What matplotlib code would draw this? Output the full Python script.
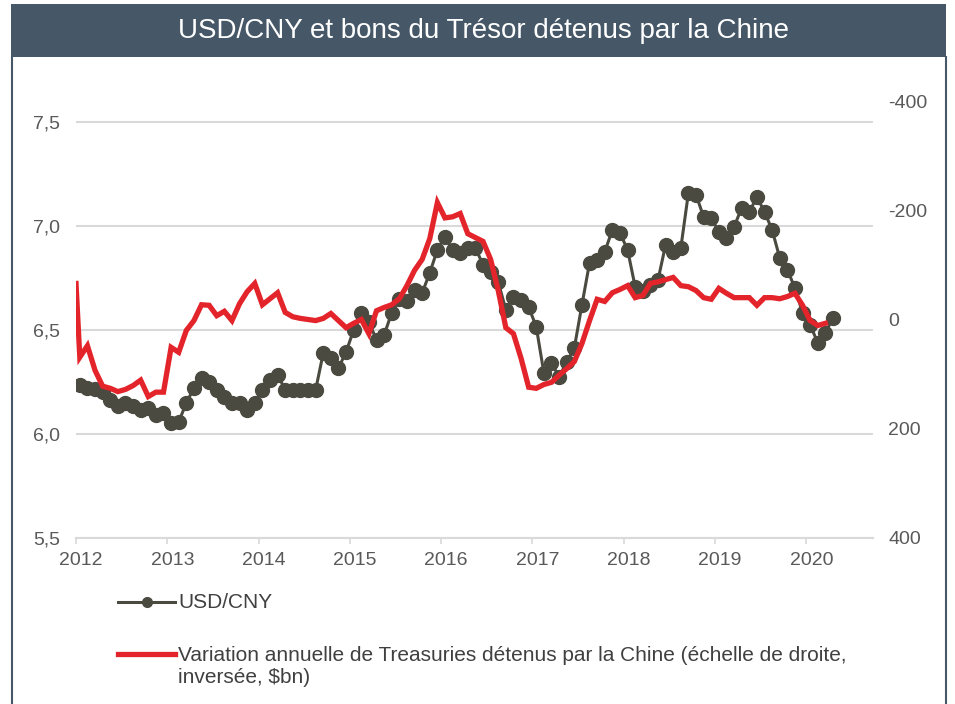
import numpy as np
import matplotlib.pyplot as plt
import matplotlib.transforms as mtransforms
from matplotlib.lines import Line2D
from matplotlib.patches import Rectangle

plt.rcParams['font.family'] = ['Liberation Sans', 'DejaVu Sans']

# USD/CNY, monthly from Jan 2012
usd_cny = [6.236, 6.221, 6.216, 6.202, 6.163, 6.135, 6.149, 6.135, 6.115, 6.125,
           6.091, 6.101, 6.053, 6.058, 6.149, 6.221, 6.269, 6.250, 6.212, 6.178,
           6.149, 6.149, 6.115, 6.149, 6.212, 6.260, 6.284, 6.212, 6.212, 6.212,
           6.212, 6.212, 6.389, 6.365, 6.317, 6.394, 6.500, 6.582, 6.538, 6.452,
           6.476, 6.582, 6.649, 6.639, 6.692, 6.678, 6.774, 6.885, 6.947, 6.885,
           6.870, 6.894, 6.894, 6.813, 6.779, 6.731, 6.596, 6.659, 6.644, 6.611,
           6.514, 6.293, 6.341, 6.274, 6.346, 6.413, 6.620, 6.822, 6.837, 6.875,
           6.981, 6.966, 6.885, 6.707, 6.688, 6.716, 6.740, 6.909, 6.875, 6.894,
           7.159, 7.149, 7.043, 7.038, 6.971, 6.942, 6.995, 7.087, 7.067, 7.139,
           7.067, 6.981, 6.846, 6.788, 6.702, 6.582, 6.524, 6.438, 6.486, 6.558]

# annual change of US Treasuries held by China, $bn (right axis, inverted)
treasuries = [-66, 69, 48, 93, 122, 126, 132, 128, 121, 111,
              141, 133, 133, 51, 60, 20, 2, -27, -26, -7,
              -15, 2, -29, -51, -66, -27, -38, -49, -13, -5,
              -2, 0, 2, -2, -11, 2, 15, 7, 0, 26,
              -16, -22, -27, -38, -62, -90, -110, -148, -214, -186,
              -188, -194, -157, -150, -143, -110, -53, 15, 26, 71,
              124, 126, 119, 115, 102, 90, 77, 44, 2, -37,
              -33, -49, -55, -62, -40, -44, -66, -69, -73, -77,
              -62, -60, -53, -40, -37, -57, -48, -40, -40, -40,
              -26, -40, -40, -38, -42, -48, -26, 2, 11, 7]

years = list(range(2012, 2021))
title = "USD/CNY et bons du Trésor détenus par la Chine"
label_fx = "USD/CNY"
label_ust = ("Variation annuelle de Treasuries détenus par la Chine (échelle de droite,\n"
             r"inversée, \$bn)")

months = 2012 + (np.arange(len(usd_cny)) + 0.5) / 12
ust_dates = np.concatenate([[2012.0], months[:len(treasuries) - 1]])

dark = '#4a4a40'
red = '#e3242b'
grey_txt = '#595959'
grid_c = '#d9d9d9'
frame_c = '#465868'

W, H = 955, 704
fig = plt.figure(figsize=(W / 100, H / 100), dpi=100)

# title bar and frame
fig.add_artist(Rectangle((11 / W, 1 - 57 / H), 935 / W, 53 / H, transform=fig.transFigure,
                         facecolor=frame_c, edgecolor='none'))
fig.add_artist(Line2D([11.5 / W, 11.5 / W], [0, 1 - 57 / H], color=frame_c, lw=1.5))
fig.add_artist(Line2D([945.5 / W, 945.5 / W], [0, 1 - 57 / H], color=frame_c, lw=1.5))
fig.text(484 / W, 1 - 31 / H, title, color='white', fontsize=20, ha='center', va='center')

ax = fig.add_axes([76 / W, 1 - 538 / H, (873 - 76) / W, (538 - 101) / H])
ax2 = ax.twinx()

ax.plot(months, usd_cny, color=dark, lw=2.2, marker='o', ms=10, zorder=3)
ax2.plot(ust_dates, treasuries, color=red, lw=3.8, solid_joinstyle='miter', zorder=3)

ax.set_xlim(2012, 2020.73)
ax.set_ylim(5.5, 7.6)
ax2.set_ylim(400, -400)

ax.set_yticks([5.5, 6.0, 6.5, 7.0, 7.5])
ax.set_yticklabels(['5,5', '6,0', '6,5', '7,0', '7,5'])
ax2.set_yticks([-400, -200, 0, 200, 400])
ax2.set_yticklabels(['-400', '-200', '0', '200', '400'])
ax.set_xticks(years)
ax.set_xticklabels([str(y) for y in years])

ax.grid(axis='y', color=grid_c, lw=1.5)
ax.set_axisbelow(True)
for s in ['top', 'left', 'right']:
    ax.spines[s].set_visible(False)
ax.spines['bottom'].set_color(grid_c)
ax.spines['bottom'].set_linewidth(1.5)
for s in ax2.spines.values():
    s.set_visible(False)

ax.tick_params(axis='y', length=0, pad=11.5, labelsize=14, labelcolor=grey_txt)
ax2.tick_params(axis='y', length=0, pad=11, labelsize=14, labelcolor=grey_txt)
ax.tick_params(axis='x', length=4, width=1.2, color=grid_c, pad=6, labelsize=14,
               labelcolor=grey_txt)
shift = mtransforms.ScaledTranslation(5 / 100, 0, fig.dpi_scale_trans)
for lab in ax.get_xticklabels():
    lab.set_transform(lab.get_transform() + shift)

# legend
y1 = 1 - 602 / H
fig.add_artist(Line2D([118 / W, 175 / W], [y1, y1], color=dark, lw=2.2))
fig.add_artist(Line2D([146.5 / W], [y1], color=dark, marker='o', ms=7))
fig.text(178 / W, y1, label_fx, color='#404040', fontsize=15, ha='left', va='center')
y2 = 1 - 654 / H
fig.add_artist(Line2D([118 / W, 175 / W], [y2, y2], color=red, lw=3.8))
fig.text(178 / W, 1 - 666.5 / H, label_ust, color='#404040', fontsize=15,
         ha='left', va='center', linespacing=1.2)

fig.savefig('out.png', dpi=100)
